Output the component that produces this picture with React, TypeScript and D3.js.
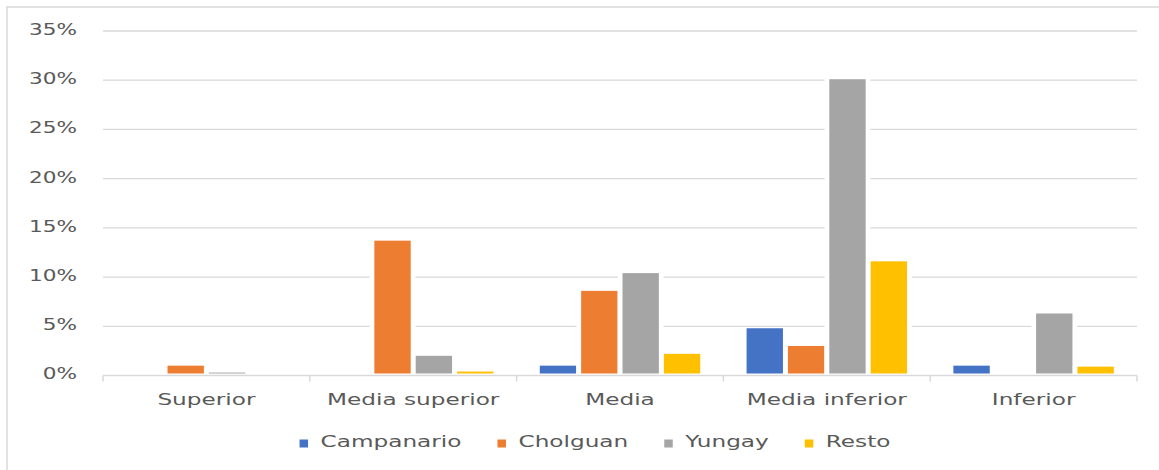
import React, { useEffect, useRef } from 'react'
import * as d3 from 'd3'

// data (percent)
const categories = ['Superior', 'Media superior', 'Media', 'Media inferior', 'Inferior']
const seriesNames = ['Campanario', 'Cholguan', 'Yungay', 'Resto']
const campanario = [0, 0, 1.0, 4.8, 1.0]
const cholguan = [1.0, 13.7, 8.6, 3.0, 0]
const yungay = [0.3, 2.0, 10.4, 30.1, 6.3]
const resto = [0, 0.4, 2.2, 11.6, 0.9]
const yTicks = [0, 5, 10, 15, 20, 25, 30, 35]

const colors = ['#4472C4', '#ED7D31', '#A5A5A5', '#FFC000']

const W = 1159
const H = 470
const margin = { left: 103, right: 22, top: 31, bottom: 94.5 }
const FONT = '"DejaVu Sans", Verdana, sans-serif'
const TEXT = '#595959'
const GRID = '#d9d9d9'

export default function App() {
  const ref = useRef<SVGSVGElement>(null)

  useEffect(() => {
    const svg = d3.select(ref.current)
    svg.selectAll('*').remove()

    const values = [campanario, cholguan, yungay, resto]
    const plotRight = W - margin.right
    const plotBottom = H - margin.bottom

    // chart frame (only left/top edges visible, picture is cropped)
    svg
      .append('rect')
      .attr('x', 7)
      .attr('y', 7)
      .attr('width', W + 40)
      .attr('height', H + 40)
      .attr('fill', 'white')
      .attr('stroke', GRID)
      .attr('stroke-width', 1.5)

    const x = d3.scaleBand().domain(categories).range([margin.left, plotRight]).padding(0)
    const xs = d3
      .scaleBand()
      .domain(seriesNames)
      .range([0, x.bandwidth()])
      .paddingInner(0)
      .paddingOuter(0.5)
    const y = d3.scaleLinear().domain([0, 35]).range([plotBottom, margin.top])

    // gridlines
    svg
      .append('g')
      .selectAll('line')
      .data(yTicks.filter(t => t > 0))
      .enter()
      .append('line')
      .attr('x1', margin.left)
      .attr('x2', plotRight)
      .attr('y1', d => y(d))
      .attr('y2', d => y(d))
      .attr('stroke', GRID)
      .attr('stroke-width', 1.3)

    // y labels
    svg
      .append('g')
      .selectAll('g')
      .data(yTicks)
      .enter()
      .append('g')
      .attr('transform', d => `translate(77, ${y(d) - 2}) scale(1.35, 1)`)
      .append('text')
      .attr('text-anchor', 'end')
      .attr('dominant-baseline', 'central')
      .attr('font-family', FONT)
      .attr('font-size', 16)
      .attr('fill', TEXT)
      .text(d => `${d}%`)

    // bars: white halo then fill
    const bars = svg.append('g')
    values.forEach((series, si) => {
      series.forEach((v, ci) => {
        if (v <= 0) return
        const x0 = (x(categories[ci]) as number) + (xs(seriesNames[si]) as number)
        const step = xs.bandwidth()
        const top = y(v)
        bars
          .append('rect')
          .attr('x', x0 - 2.2)
          .attr('y', top - 1)
          .attr('width', step + 4.4)
          .attr('height', plotBottom - top + 1)
          .attr('fill', 'white')
        bars
          .append('rect')
          .attr('x', x0 + 2.5)
          .attr('y', top)
          .attr('width', step - 5)
          .attr('height', Math.max(0, plotBottom - 2 - top))
          .attr('fill', colors[si])
      })
    })

    // category axis
    svg
      .append('line')
      .attr('x1', margin.left)
      .attr('x2', plotRight)
      .attr('y1', plotBottom)
      .attr('y2', plotBottom)
      .attr('stroke', GRID)
      .attr('stroke-width', 1.5)
    const bounds = categories.map(c => x(c) as number).concat([plotRight])
    svg
      .append('g')
      .selectAll('line')
      .data(bounds)
      .enter()
      .append('line')
      .attr('x1', d => d)
      .attr('x2', d => d)
      .attr('y1', plotBottom)
      .attr('y2', plotBottom + 6)
      .attr('stroke', GRID)
      .attr('stroke-width', 1.5)

    svg
      .append('g')
      .selectAll('g')
      .data(categories)
      .enter()
      .append('g')
      .attr('transform', d => `translate(${(x(d) as number) + x.bandwidth() / 2}, 400) scale(1.45, 1)`)
      .append('text')
      .attr('text-anchor', 'middle')
      .attr('dominant-baseline', 'central')
      .attr('font-family', FONT)
      .attr('font-size', 16)
      .attr('fill', TEXT)
      .text(d => d)

    // legend
    const legend = svg.append('g')
    const items = seriesNames.map((name, i) => {
      const g = legend.append('g')
      g.append('rect')
        .attr('x', 0)
        .attr('y', -2.5)
        .attr('width', 8.5)
        .attr('height', 8)
        .attr('fill', colors[i])
      const t = g
        .append('g')
        .attr('transform', 'translate(21, 0) scale(1.45, 1)')
        .append('text')
        .attr('dominant-baseline', 'central')
        .attr('font-family', FONT)
        .attr('font-size', 16)
        .attr('fill', TEXT)
        .text(name)
      const tw = (t.node() as SVGTextElement).getComputedTextLength() * 1.45
      return { g, w: 21 + tw }
    })
    const gap = 36
    const total = items.reduce((a, b) => a + b.w, 0) + gap * (items.length - 1)
    let cx = 595 - total / 2
    items.forEach(it => {
      it.g.attr('transform', `translate(${cx}, 442)`)
      cx += it.w + gap
    })
  }, [])

  return (
    <svg
      ref={ref}
      width={W}
      height={H}
      style={{ position: 'absolute', left: 0, top: 0, background: 'white' }}
    />
  )
}
